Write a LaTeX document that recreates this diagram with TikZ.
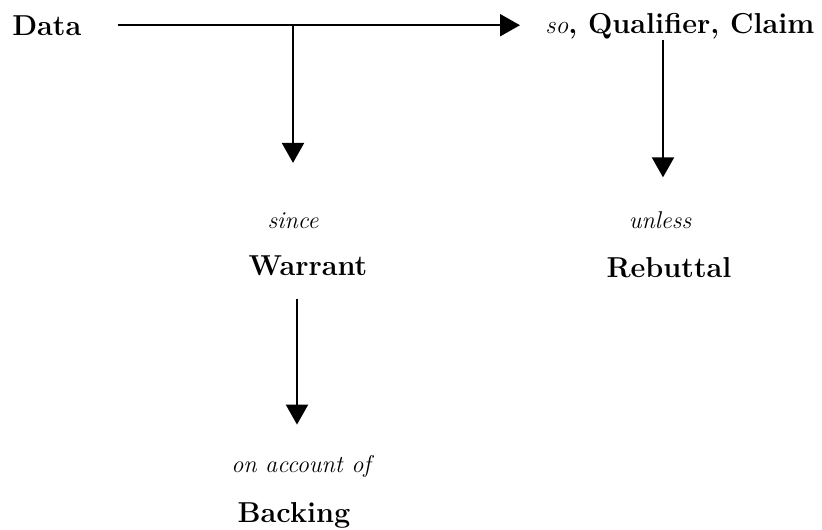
\documentclass[tikz,border=0pt]{standalone}
\usepackage{tikz}
\usetikzlibrary{arrows.meta, positioning, calc}

\begin{document}
\begin{tikzpicture}[x=0.02cm,y=-0.02cm,
    term/.style={inner sep=0pt,anchor=base,font=\fontsize{16.4}{19}\selectfont\bfseries},
    cue/.style={inner sep=0pt,anchor=base,font=\fontsize{13.8}{16}\selectfont\itshape},
    arr/.style={-{Triangle[length=0.4cm,width=0.44cm]},line width=1.2pt}]
    \useasboundingbox (0,0) rectangle (822,529);

    % Data and claim line
    \node[term,anchor=base west] (data) at (12,35) {Data};
    \node[term,anchor=base west] (claim) at (545,33) {{\fontsize{14.5}{16}\selectfont\mdseries\itshape so\/}, Qualifier, Claim};
    \draw[arr,shorten <=0.72cm,shorten >=0.5cm] (data.east) -- (data.east -| claim.west);

    % Warrant
    \coordinate (split) at (293,25);
    \node[cue] (since) at (293,228) {since};
    \node[term] (warrant) at (308,275) {Warrant};
    \draw[arr,shorten >=0.98cm] (split) -- (since.north);

    % Rebuttal
    \coordinate (rb) at (663,40);
    \node[cue] (unless) at (660,228) {unless};
    \node[term] (rebuttal) at (669,277) {Rebuttal};
    \draw[arr,shorten >=0.67cm] (rb) -- (rb |- unless.north);

    % Backing
    \coordinate (wb) at (297,0);
    \node[cue] (account) at (301,472) {on account of};
    \node[term] (backing) at (294,522) {Backing};
    \draw[arr,shorten <=0.46cm,shorten >=0.6cm] (warrant.south -| wb) -- (account.north -| wb);
\end{tikzpicture}
\end{document}
